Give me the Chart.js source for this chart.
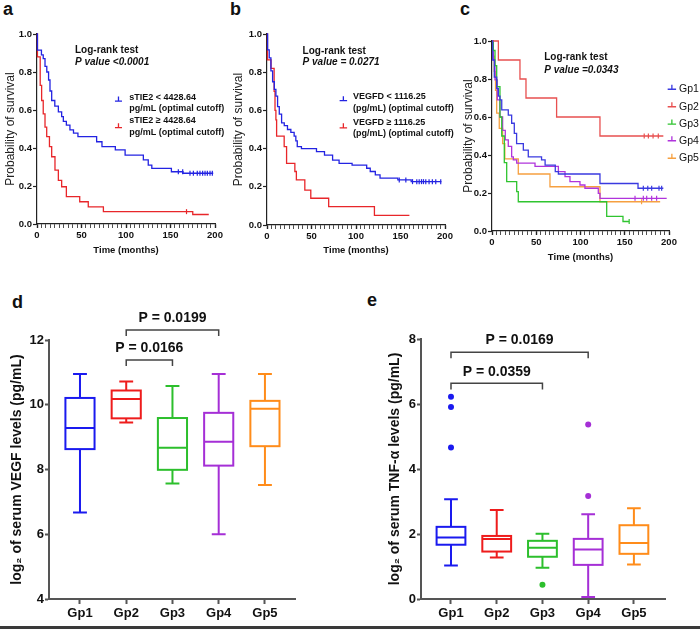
<!DOCTYPE html>
<html>
<head>
<meta charset="utf-8">
<script src="https://cdn.jsdelivr.net/npm/chart.js@4.4.0/dist/chart.umd.min.js"></script>
<style>
  body { margin: 0; background: #fff; width: 700px; height: 629px; position: relative; overflow: hidden; }
  canvas { position: absolute; }
  .tag { position: absolute; font: bold 18px/18px "Liberation Sans", Arial, sans-serif; color: #111; }
  #strip { position: absolute; left: 0; top: 626px; width: 700px; height: 3px; background: #3a3a3a; }
</style>
</head>
<body>
<div class="tag" style="left:3px;top:0">a</div>
<div class="tag" style="left:230px;top:0">b</div>
<div class="tag" style="left:460px;top:0">c</div>
<div class="tag" style="left:12px;top:293px">d</div>
<div class="tag" style="left:367px;top:291px">e</div>
<canvas id="kmA" width="230" height="260" style="left:0;top:0"></canvas>
<canvas id="kmB" width="230" height="260" style="left:228px;top:0"></canvas>
<canvas id="kmC" width="242" height="266" style="left:458px;top:0"></canvas>
<canvas id="boxD" width="350" height="346" style="left:0;top:280px"></canvas>
<canvas id="boxE" width="322" height="346" style="left:378px;top:280px"></canvas>
<div id="strip"></div>
<script>
// --- survival curves: months where the curve steps, survival after that step, censored times ---
const aLowTime = [0, 0.5, 5, 7, 9, 11, 13, 14.6, 16.5, 20, 24, 27.7, 29.6, 33, 37, 41, 46, 67, 73, 88, 99, 119.5, 125, 129, 151, 164, 198];
const aLowSurv = [1, 0.915, 0.89, 0.87, 0.83, 0.80, 0.758, 0.70, 0.65, 0.62, 0.59, 0.565, 0.54, 0.52, 0.495, 0.478, 0.46, 0.433, 0.407, 0.39, 0.363, 0.337, 0.31, 0.293, 0.275, 0.267, 0.267];
const aLowCensor = [158.8, 163.7, 171.9, 175.7, 180.1, 183.1, 186.1, 188.8, 191.4, 194.4, 197];
const aHighTime = [0, 0.5, 3.6, 5.2, 7, 9, 10.9, 14, 16.5, 20.2, 24, 27.7, 33, 48, 57.6, 74.6, 175, 193];
const aHighSurv = [1, 0.88, 0.73, 0.65, 0.58, 0.51, 0.46, 0.407, 0.354, 0.284, 0.23, 0.196, 0.144, 0.117, 0.09, 0.065, 0.05, 0.05];
const aHighCensor = [168];

const bLowTime = [0, 0.7, 2.5, 4.4, 6.3, 8.2, 10, 11.9, 13.8, 16.4, 19.4, 23, 26.8, 30.5, 32.4, 34, 38.7, 55.6, 64.6, 73.7, 81, 95.6, 112, 116, 121.7, 127, 147, 162, 196];
const bLowSurv = [1, 0.917, 0.875, 0.807, 0.75, 0.71, 0.675, 0.62, 0.58, 0.535, 0.52, 0.50, 0.485, 0.465, 0.44, 0.41, 0.40, 0.384, 0.366, 0.34, 0.323, 0.314, 0.297, 0.28, 0.262, 0.245, 0.236, 0.227, 0.227];
const bLowCensor = [148.6, 156, 163.5, 168.3, 171, 173.6, 175.8, 178.4, 182.1, 185.8, 189.6, 195.2];
const bHighTime = [0, 0.5, 4.5, 8, 9, 10, 10.8, 19.3, 22, 31.3, 33, 42.5, 49.2, 69.3, 120.7, 160];
const bHighSurv = [1, 0.865, 0.82, 0.70, 0.60, 0.55, 0.465, 0.41, 0.323, 0.28, 0.236, 0.183, 0.14, 0.096, 0.05, 0.05];
const bHighCensor = [];

const cGp1Time = [0, 0.8, 2.6, 5.3, 7.2, 9, 11, 18.4, 22.2, 25.2, 27.8, 35.4, 41, 56, 60, 71.5, 75, 122, 165, 193.6];
const cGp1Surv = [1, 0.9, 0.81, 0.75, 0.71, 0.69, 0.637, 0.61, 0.567, 0.514, 0.46, 0.426, 0.39, 0.374, 0.347, 0.312, 0.30, 0.25, 0.225, 0.225];
const cGp1Censor = [171, 176, 180.4, 188.7, 191.7];
const cGp2Time = [0, 7.2, 31.6, 38.4, 73, 122, 193.6];
const cGp2Surv = [1, 0.9, 0.8, 0.7, 0.6, 0.5, 0.5];
const cGp2Censor = [172, 176.7, 182, 187.9];
const cGp3Time = [0, 1.5, 3.4, 5.3, 9, 11, 13.9, 16.6, 27.9, 29.7, 129.6, 148, 155];
const cGp3Surv = [1, 0.95, 0.87, 0.76, 0.60, 0.50, 0.36, 0.26, 0.207, 0.154, 0.077, 0.05, 0.05];
const cGp3Censor = [155];
const cGp4Time = [0, 1.5, 3.4, 6, 9, 12, 15, 18.4, 22.2, 24.1, 27.9, 48.6, 75, 82.5, 88.1, 99.4, 105, 120.1, 122, 197.4];
const cGp4Surv = [1, 0.9, 0.795, 0.69, 0.60, 0.53, 0.48, 0.445, 0.39, 0.374, 0.357, 0.34, 0.312, 0.286, 0.26, 0.242, 0.225, 0.198, 0.172, 0.172];
const cGp4Censor = [161.6, 171, 174.8, 180.4, 186];
const cGp5Time = [0, 1, 2.5, 4, 5.3, 8.2, 12, 14.5, 29.7, 65.5, 122, 190];
const cGp5Surv = [1, 0.92, 0.84, 0.74, 0.62, 0.54, 0.46, 0.38, 0.30, 0.233, 0.154, 0.154];
const cGp5Censor = [169];

// --- box plots ---
const groups = ['Gp1', 'Gp2', 'Gp3', 'Gp4', 'Gp5'];
const vegfMin = [6.67, 9.45, 7.57, 6.0, 7.52];
const vegfQ1 = [8.63, 9.58, 7.99, 8.12, 8.72];
const vegfMedian = [9.28, 10.18, 8.67, 8.86, 9.88];
const vegfQ3 = [10.21, 10.44, 9.59, 9.75, 10.12];
const vegfMax = [10.95, 10.72, 10.58, 10.95, 10.95];
const vegfOutliers = [[], [], [], [], []];
const tnfMin = [1.03, 1.28, 0.96, 0.06, 1.06];
const tnfQ1 = [1.67, 1.46, 1.30, 1.05, 1.39];
const tnfMedian = [1.89, 1.85, 1.58, 1.52, 1.72];
const tnfQ3 = [2.22, 1.94, 1.79, 1.85, 2.27];
const tnfMax = [3.07, 2.74, 2.01, 2.61, 2.79];
const tnfOutliers = [[6.22, 5.91, 4.66], [], [0.44], [5.37, 3.17], []];

const FONT = '"Liberation Sans", Arial, sans-serif';
Chart.defaults.font.family = FONT;
Chart.defaults.color = '#111';

const blue = '#2323e2', red = '#e8262a';
const gpLine = ['#3a3ae0', '#e85050', '#2fc42f', '#b034dc', '#f6a040'];
const gpBox = ['#1a1aef', '#ee1c1c', '#2cbf2c', '#a52fd6', '#ff8c1a'];

function survAt(times, surv, t) {
    let s = surv[0];
    times.forEach((tt, i) => { if (tt <= t) s = surv[i]; });
    return s;
}

// draws the legend keys and log-rank text inside the KM plots
const kmDecor = {
    id: 'kmDecor',
    afterDatasetsDraw(chart, args, opts) {
        const { ctx, scales: { x, y } } = chart;
        ctx.save();
        ctx.lineWidth = 1.3;
        opts.keys.forEach(k => {
            const x0 = x.getPixelForValue(k.x0), x1 = x.getPixelForValue(k.x1), py = y.getPixelForValue(k.y);
            ctx.strokeStyle = k.color;
            ctx.beginPath();
            ctx.moveTo(x0, py); ctx.lineTo(x1, py);
            ctx.moveTo((x0 + x1) / 2, py); ctx.lineTo((x0 + x1) / 2, py - 4.5);
            ctx.stroke();
        });
        ctx.textAlign = 'left';
        ctx.textBaseline = 'middle';
        opts.labels.forEach(l => {
            ctx.font = l.font;
            ctx.fillStyle = '#111';
            ctx.fillText(l.text, x.getPixelForValue(l.x), y.getPixelForValue(l.y));
        });
        ctx.restore();
    }
};

function kmDatasets(series) {
    const ds = [];
    series.forEach(s => {
        ds.push({
            type: 'line',
            data: s.time.map((t, i) => ({ x: t, y: s.surv[i] })),
            borderColor: s.color, borderWidth: 1.3, stepped: true,
            pointRadius: 0, fill: false, clip: false
        });
        ds.push({
            type: 'scatter',
            data: s.censor.map(t => ({ x: t, y: survAt(s.time, s.surv, t) })),
            pointStyle: 'line', pointRotation: 90, pointRadius: 2.5,
            pointBorderColor: s.color, pointBorderWidth: 1.2, showLine: false, clip: false
        });
    });
    return ds;
}

function makeKM(id, series, lay, decor) {
    return new Chart(document.getElementById(id), {
        type: 'line',
        data: { datasets: kmDatasets(series) },
        options: {
            responsive: false, animation: false, events: [],
            layout: { padding: lay.padding },
            plugins: { legend: { display: false }, tooltip: { enabled: false }, kmDecor: decor },
            scales: {
                x: {
                    type: 'linear', min: 0, max: 200,
                    border: { color: '#222', width: 1.2 },
                    grid: { drawOnChartArea: false, tickLength: 4, tickColor: '#222',
                            tickWidth: c => (c.tick && c.tick.value % 50 === 0) ? 1.4 : 0.8 },
                    ticks: { stepSize: 5, autoSkip: false, maxRotation: 0, padding: 2,
                             font: { size: 9.5, weight: 'bold' },
                             callback: v => (v % 50 === 0 ? v : '') },
                    title: { display: true, text: 'Time (months)', font: { size: 9.5, weight: 'bold' },
                             padding: { top: 0, bottom: lay.titleBottom } },
                    afterFit: s => { s.height = lay.xHeight; }
                },
                y: {
                    min: 0, max: 1,
                    border: { color: '#222', width: 1.2 },
                    grid: { drawOnChartArea: false, tickLength: 4, tickColor: '#222', tickWidth: 1.2 },
                    ticks: { stepSize: 0.2, padding: 1, font: { size: 9.5, weight: 'bold' },
                             callback: v => v.toFixed(1) },
                    title: { display: true, text: 'Probability of survival', color: '#222',
                             font: { size: 12 }, padding: { top: 3, bottom: 0 } },
                    afterFit: s => { s.width = lay.yWidth; }
                }
            }
        },
        plugins: [kmDecor]
    });
}

const headFont = 'bold 10px ' + FONT;
const pFont = 'italic bold 10px ' + FONT;
const keyFont = 'bold 9px ' + FONT;
const gpFont = '10.5px ' + FONT;

makeKM('kmA', [
    { time: aLowTime, surv: aLowSurv, censor: aLowCensor, color: blue },
    { time: aHighTime, surv: aHighSurv, censor: aHighCensor, color: red }
], { padding: { top: 34, right: 15, left: 0, bottom: 0 }, yWidth: 37, xHeight: 36, titleBottom: 4 }, {
    keys: [{ x0: 87.6, x1: 95.5, y: 0.647, color: blue }, { x0: 87.6, x1: 95.5, y: 0.507, color: red }],
    labels: [
        { text: 'Log-rank test', x: 42.7, y: 0.912, font: headFont },
        { text: 'P value <0.0001', x: 42.7, y: 0.851, font: pFont },
        { text: 'sTIE2 < 4428.64', x: 103.7, y: 0.665, font: keyFont },
        { text: 'pg/mL (optimal cutoff)', x: 103.7, y: 0.609, font: keyFont },
        { text: 'sTIE2 \u2265 4428.64', x: 103.7, y: 0.547, font: keyFont },
        { text: 'pg/mL (optimal cutoff)', x: 103.7, y: 0.481, font: keyFont }
    ]
});

makeKM('kmB', [
    { time: bLowTime, surv: bLowSurv, censor: bLowCensor, color: blue },
    { time: bHighTime, surv: bHighSurv, censor: bHighCensor, color: red }
], { padding: { top: 34, right: 13, left: 0, bottom: 0 }, yWidth: 39, xHeight: 35, titleBottom: 4 }, {
    keys: [{ x0: 81.6, x1: 90, y: 0.651, color: blue }, { x0: 81.6, x1: 90, y: 0.509, color: red }],
    labels: [
        { text: 'Log-rank test', x: 40, y: 0.912, font: headFont },
        { text: 'P value = 0.0271', x: 40, y: 0.852, font: pFont },
        { text: 'VEGFD < 1116.25', x: 96.5, y: 0.672, font: keyFont },
        { text: '(pg/mL) (optimal cutoff)', x: 96.5, y: 0.611, font: keyFont },
        { text: 'VEGFD \u2265 1116.25', x: 96.5, y: 0.538, font: keyFont },
        { text: '(pg/mL) (optimal cutoff)', x: 96.5, y: 0.48, font: keyFont }
    ]
});

const cKeyY = [0.746, 0.654, 0.563, 0.475, 0.383];
makeKM('kmC', [
    { time: cGp1Time, surv: cGp1Surv, censor: cGp1Censor, color: gpLine[0] },
    { time: cGp2Time, surv: cGp2Surv, censor: cGp2Censor, color: gpLine[1] },
    { time: cGp3Time, surv: cGp3Surv, censor: cGp3Censor, color: gpLine[2] },
    { time: cGp4Time, surv: cGp4Surv, censor: cGp4Censor, color: gpLine[3] },
    { time: cGp5Time, surv: cGp5Surv, censor: cGp5Censor, color: gpLine[4] }
], { padding: { top: 41, right: 31, left: 0, bottom: 0 }, yWidth: 34, xHeight: 35, titleBottom: 3 }, {
    keys: groups.map((g, i) => ({ x0: 198.5, x1: 208, y: cKeyY[i], color: gpLine[i] })),
    labels: [
        { text: 'Log-rank test', x: 59, y: 0.914, font: headFont },
        { text: 'P value =0.0343', x: 59, y: 0.847, font: pFont }
    ].concat(groups.map((g, i) => ({ text: g, x: 211.3, y: cKeyY[i], font: gpFont })))
});

// box, whiskers and significance brackets for the box plots
const boxDecor = {
    id: 'boxDecor',
    afterDatasetsDraw(chart, args, o) {
        const { ctx, scales: { x, y } } = chart;
        ctx.save();
        ctx.lineWidth = 2;
        o.min.forEach((mn, i) => {
            const c = x.getPixelForValue(i + 1);
            const hw = x.getPixelForValue(i + 1.315) - c;
            const cw = x.getPixelForValue(i + 1.15) - c;
            const yMin = y.getPixelForValue(mn), yQ1 = y.getPixelForValue(o.q1[i]);
            const yMed = y.getPixelForValue(o.median[i]), yQ3 = y.getPixelForValue(o.q3[i]);
            const yMax = y.getPixelForValue(o.max[i]);
            ctx.strokeStyle = o.colors[i];
            ctx.strokeRect(c - hw, yQ3, 2 * hw, yQ1 - yQ3);
            ctx.beginPath();
            ctx.moveTo(c - hw, yMed); ctx.lineTo(c + hw, yMed);
            ctx.moveTo(c, yQ3); ctx.lineTo(c, yMax);
            ctx.moveTo(c - cw, yMax); ctx.lineTo(c + cw, yMax);
            ctx.moveTo(c, yQ1); ctx.lineTo(c, yMin);
            ctx.moveTo(c - cw, yMin); ctx.lineTo(c + cw, yMin);
            ctx.stroke();
        });
        ctx.strokeStyle = '#444';
        ctx.lineWidth = 1.5;
        ctx.fillStyle = '#111';
        ctx.font = 'bold 14px ' + FONT;
        ctx.textAlign = 'center';
        ctx.textBaseline = 'middle';
        o.brackets.forEach(b => {
            const x0 = x.getPixelForValue(b.from), x1 = x.getPixelForValue(b.to);
            const py = y.getPixelForValue(b.y), pl = y.getPixelForValue(b.leg);
            ctx.beginPath();
            ctx.moveTo(x0, pl); ctx.lineTo(x0, py); ctx.lineTo(x1, py); ctx.lineTo(x1, pl);
            ctx.stroke();
            ctx.fillText(b.text, (x0 + x1) / 2, y.getPixelForValue(b.ty));
        });
        ctx.restore();
    }
};

function makeBox(id, st, outliers, lay) {
    const pts = [], ptColors = [];
    outliers.forEach((arr, i) => arr.forEach(v => { pts.push({ x: i + 1, y: v }); ptColors.push(gpBox[i]); }));
    return new Chart(document.getElementById(id), {
        type: 'scatter',
        data: { datasets: [{ data: pts, pointRadius: 3, pointBackgroundColor: ptColors,
                             pointBorderColor: ptColors, pointBorderWidth: 0, clip: false }] },
        options: {
            responsive: false, animation: false, events: [],
            layout: { padding: lay.padding },
            plugins: { legend: { display: false }, tooltip: { enabled: false },
                       boxDecor: Object.assign({ colors: gpBox, brackets: lay.brackets }, st) },
            scales: {
                x: {
                    type: 'linear', min: lay.xMin, max: lay.xMax,
                    border: { color: '#555', width: 2 },
                    grid: { drawOnChartArea: false, tickLength: 5, tickColor: '#555', tickWidth: 2 },
                    afterBuildTicks: s => { s.ticks = groups.map((g, i) => ({ value: i + 1 })); },
                    ticks: { autoSkip: false, maxRotation: 0, padding: 2, font: { size: 13, weight: 'bold' },
                             callback: v => groups[v - 1] },
                    afterFit: s => { s.height = lay.xHeight; }
                },
                y: {
                    min: lay.yMin, max: lay.yMax,
                    border: { color: '#555', width: 2 },
                    grid: { drawOnChartArea: false, tickLength: 4, tickColor: '#555', tickWidth: 2 },
                    ticks: { stepSize: 2, padding: 1, font: { size: 13, weight: 'bold' } },
                    title: { display: true, text: lay.title, font: { size: 14, weight: 'bold' },
                             padding: { top: 9, bottom: 0 } },
                    afterFit: s => { s.width = lay.yWidth; }
                }
            }
        },
        plugins: [boxDecor]
    });
}

makeBox('boxD', { min: vegfMin, q1: vegfQ1, median: vegfMedian, q3: vegfQ3, max: vegfMax }, vegfOutliers, {
    padding: { top: 60, right: 55, left: 0, bottom: 0 }, yWidth: 49, xHeight: 27,
    xMin: 0.33, xMax: 5.65, yMin: 4, yMax: 12,
    title: 'log\u2082 of serum VEGF levels (pg/mL)',
    brackets: [
        { from: 2, to: 4, y: 12.31, leg: 12.12, text: 'P = 0.0199', ty: 12.69 },
        { from: 2, to: 3, y: 11.38, leg: 11.20, text: 'P = 0.0166', ty: 11.74 }
    ]
});

makeBox('boxE', { min: tnfMin, q1: tnfQ1, median: tnfMedian, q3: tnfQ3, max: tnfMax }, tnfOutliers, {
    padding: { top: 59, right: 35, left: 0, bottom: 0 }, yWidth: 43, xHeight: 27,
    xMin: 0.344, xMax: 5.68, yMin: 0, yMax: 8,
    title: 'log\u2082 of serum TNF-\u03b1 levels (pg/mL)',
    brackets: [
        { from: 1, to: 4, y: 7.59, leg: 7.41, text: 'P = 0.0169', ty: 7.97 },
        { from: 1, to: 3, y: 6.64, leg: 6.45, text: 'P = 0.0359', ty: 6.99 }
    ]
});
</script>
</body>
</html>
